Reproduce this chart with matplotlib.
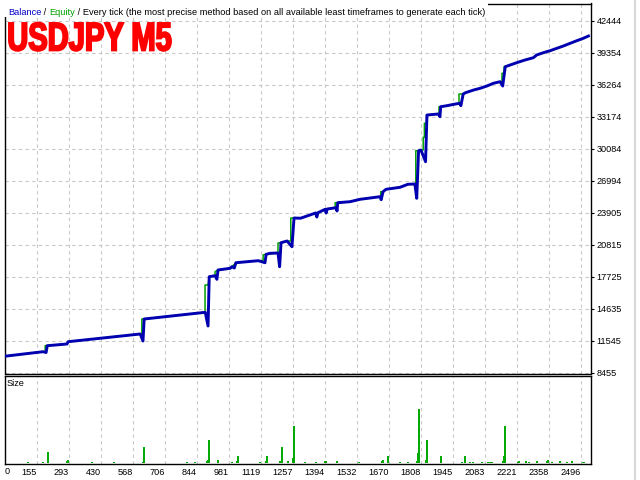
import numpy as np
import matplotlib
matplotlib.use('Agg')
import matplotlib.pyplot as plt
from matplotlib.textpath import TextPath
from matplotlib.patches import PathPatch, Rectangle
from matplotlib.font_manager import FontProperties
from matplotlib.transforms import Affine2D
from matplotlib.lines import Line2D

# balance after each trade (trade number, deposit currency)
bal_trade = [0, 182, 195, 200, 285, 290, 600, 612, 617, 880,
             892, 897, 922, 930, 935, 987, 995, 1005, 1012, 1108,
             1137, 1142, 1159, 1193, 1200, 1206, 1232, 1253, 1262, 1290,
             1355, 1360, 1365, 1396, 1400, 1405, 1443, 1447, 1450, 1503,
             1546, 1632, 1637, 1645, 1658, 1718, 1752, 1782, 1790, 1798,
             1808, 1828, 1834, 1883, 1890, 1893, 1920, 1950, 1975, 1980,
             1990, 2000, 2035, 2063, 2092, 2120, 2149, 2160, 2171, 2192,
             2220, 2256, 2292, 2306, 2335, 2364, 2393, 2421, 2457, 2479,
             2507, 2529]
bal_value = [10000, 10482, 10405, 11062, 11226, 11448, 12192, 11516, 13640, 14287,
             12964, 17724, 17821, 17473, 18372, 18536, 18690, 18564, 19076, 19270,
             19076, 19887, 19984, 20014, 18690, 21008, 21171, 20621, 23393, 23370,
             23876, 23489, 23905, 24233, 23876, 24262, 24387, 24069, 24870, 24967,
             25198, 25450, 25160, 25933, 26164, 26357, 26647, 26676, 25295, 29891,
             29959, 28829, 33338, 33435, 33174, 34140, 34237, 34372, 34469, 34237,
             35366, 35492, 35752, 35917, 36139, 36400, 36554, 36139, 38002, 38167,
             38389, 38649, 38871, 39132, 39354, 39547, 39779, 40001, 40320, 40513,
             40745, 40967]

# equity
eq_trade = [0, 182, 191, 191, 285, 290, 600, 607, 607, 617,
            879, 879, 892, 897, 915, 922, 922, 935, 987, 1012,
            1108, 1129, 1129, 1142, 1193, 1193, 1206, 1232, 1248, 1248,
            1262, 1290, 1355, 1365, 1405, 1439, 1439, 1450, 1503, 1546,
            1632, 1635, 1635, 1645, 1658, 1718, 1752, 1786, 1786, 1798,
            1808, 1818, 1818, 1823, 1823, 1833, 1833, 1883, 1886, 1886,
            1893, 1920, 1950, 1972, 1972, 1990, 2000, 2035, 2063, 2092,
            2120, 2149, 2157, 2157, 2166, 2166, 2171, 2192, 2220, 2256,
            2292, 2306, 2335, 2364, 2393, 2421, 2457, 2479, 2507, 2529]
eq_value = [10000, 10482, 10482, 11062, 11226, 11448, 12192, 12192, 13640, 13640,
            14287, 16923, 16923, 17724, 17790, 17821, 18200, 18372, 18536, 19076,
            19270, 19270, 19830, 19887, 20014, 20975, 21008, 21171, 21171, 23393,
            23393, 23370, 23876, 23905, 24262, 24387, 24870, 24870, 24967, 25198,
            25450, 25450, 25933, 25933, 26164, 26357, 26647, 26676, 29891, 29891,
            29959, 29959, 31185, 31185, 32537, 32537, 33338, 33435, 33435, 34140,
            34140, 34237, 34372, 34469, 35366, 35366, 35492, 35752, 35917, 36139,
            36400, 36554, 36554, 37365, 37365, 38002, 38002, 38167, 38389, 38649,
            38871, 39132, 39354, 39547, 39779, 40001, 40320, 40513, 40745, 40967]

# lot size per trade
size_trade = [115, 183, 202, 205, 284, 288, 392, 489, 614, 618,
              803, 837, 889, 893, 898, 936, 994, 1018, 1022, 1116,
              1140, 1145, 1202, 1209, 1238, 1256, 1259, 1263, 1309, 1357,
              1395, 1400, 1446, 1543, 1640, 1644, 1668, 1718, 1754, 1793,
              1797, 1801, 1829, 1831, 1836, 1893, 1896, 1984, 1998, 2019,
              2034, 2070, 2096, 2105, 2115, 2163, 2167, 2171, 2225, 2230,
              2259, 2275, 2306, 2349, 2354, 2371, 2407, 2436, 2457, 2504,
              2511]
size_lots = [0.01, 0.01, 0.01, 0.11, 0.02, 0.03, 0.01, 0.01, 0.01, 0.16,
             0.01, 0.01, 0.02, 0.03, 0.23, 0.03, 0.01, 0.02, 0.07, 0.01,
             0.02, 0.07, 0.02, 0.16, 0.02, 0.03, 0.05, 0.37, 0.01, 0.01,
             0.02, 0.02, 0.02, 0.01, 0.02, 0.03, 0.07, 0.01, 0.01, 0.02,
             0.10, 0.54, 0.02, 0.03, 0.23, 0.01, 0.07, 0.01, 0.07, 0.01,
             0.01, 0.01, 0.01, 0.01, 0.01, 0.02, 0.07, 0.37, 0.01, 0.02,
             0.02, 0.01, 0.02, 0.02, 0.03, 0.01, 0.02, 0.01, 0.02, 0.01,
             0.01]

x_ticks = [155, 293, 430, 568, 706, 844, 981, 1119, 1257, 1394, 1532,
           1670, 1808, 1945, 2083, 2221, 2358, 2496]
y_ticks = [42444, 39354, 36264, 33174, 30084, 26994, 23905, 20815,
           17725, 14635, 11545, 8455]

header = [('Balance', '#0000c8'), (' / ', '#000000'), ('Equity', '#00a000'),
          (' / Every tick (the most precise method based on all available '
           'least timeframes to generate each tick)', '#000000')]

plt.rcParams['font.family'] = ['Liberation Sans', 'DejaVu Sans']

W, H = 640.0, 480.0
fig = plt.figure(figsize=(6.4, 4.8), dpi=100)


def box(l, t, r, b):
    return [l / W, 1 - b / H, (r - l) / W, (b - t) / H]


ax = fig.add_axes(box(4.5, 3.5, 591, 373.5))
ax2 = fig.add_axes(box(4.5, 376, 591, 464.3))

grid_kw = dict(color='#c8c8c8', linestyle=(0, (3, 3)), linewidth=0.8)

# main chart
ax.plot(eq_trade, eq_value, color='#00a000', lw=1.1, zorder=3)
ax.plot(bal_trade, bal_value, color='#0000b0', lw=2.1, zorder=4)
ax.set_xlim(16, 2540)
ax.set_ylim(8378, 44105)
ax.set_xticks(x_ticks)
ax.set_xticklabels([])
ax.tick_params(axis='x', length=0)
ax.set_yticks(y_ticks)
ax.set_yticklabels([str(v) for v in y_ticks])
ax.yaxis.tick_right()
ax.tick_params(axis='y', direction='out', length=2.5, width=0.8, pad=1.5,
               labelsize=6.6)
ax.set_axisbelow(True)
ax.grid(True, **grid_kw)
for s in ax.spines.values():
    s.set_linewidth(1.0)

# size panel
ax2.vlines(size_trade, 0, size_lots, colors='#00a800', lw=1.4)
ax2.set_xlim(16, 2540)
ax2.set_ylim(-0.012, 0.87)
ax2.set_yticks([])
ax2.set_xticks(x_ticks)
ax2.set_xticklabels([str(v) for v in x_ticks], ha='right')
ax2.tick_params(axis='x', length=0, pad=3, labelsize=6.6)
ax2.set_axisbelow(True)
ax2.grid(axis='x', **grid_kw)
for s in ax2.spines.values():
    s.set_linewidth(1.0)

fig.text(7 / W, 1 - 379 / H, 'Size', va='top', fontsize=6.6)
fig.text(5 / W, 1 - 467.5 / H, '0', va='top', fontsize=6.6)

# header line
renderer = fig.canvas.get_renderer()
x = 8
for txt, col in header:
    t = fig.text(x / W, 1 - 15 / H, txt, color=col, fontsize=6.65,
                 va='baseline', zorder=10)
    x = t.get_window_extent(renderer).x1
fig.add_artist(Rectangle((0, 1 - 17 / H), (x + 3) / W, 17 / H,
                         transform=fig.transFigure, facecolor='white',
                         edgecolor='none', zorder=9))

# big title
fp = FontProperties(family='Liberation Sans', weight='bold')
tp = TextPath((0, 0), 'USDJPY M5', size=1, prop=fp)
ext = tp.get_extents()
sy = 28.2 / ext.height
sx = 162 / ext.width
tr = (Affine2D().translate(-ext.x0, -ext.y0).scale(sx, sy)
      .translate(9, H - 50.8))
fig.add_artist(PathPatch(tp, transform=tr, facecolor='#ff0000',
                         edgecolor='#ff0000', lw=1.4, zorder=8))

# scrollbar edge at right
fig.add_artist(Line2D([634.5 / W] * 2, [0, 1], transform=fig.transFigure,
                      color='#d8d8d8', lw=1.5))

fig.savefig('out.png', dpi=100)
